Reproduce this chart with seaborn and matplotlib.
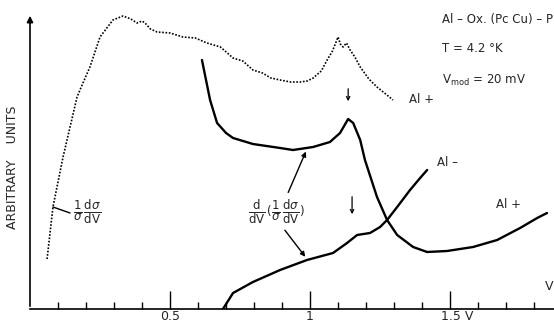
#!/usr/bin/env python3
"""
Tunnel spectrum Al-Ox-(PcCu)-Pb: 1/sigma dsigma/dV and its derivative
"""

import matplotlib
matplotlib.use("Agg")
import matplotlib.pyplot as plt
from matplotlib.transforms import ScaledTranslation
import seaborn as sns

# bias (V) and arbitrary-unit values
cond_v = [0.061, 0.082, 0.118, 0.168, 0.186, 0.214, 0.25, 0.296, 0.332, 0.36, 0.382,
          0.40, 0.411, 0.43, 0.454, 0.50, 0.546, 0.59, 0.632, 0.68, 0.725, 0.76,
          0.796, 0.83, 0.86, 0.893, 0.93, 0.964, 0.99, 1.011, 1.04, 1.061, 1.08,
          1.1, 1.108, 1.118, 1.13, 1.143, 1.16, 1.179, 1.21, 1.239, 1.27, 1.296]
cond_y = [0.50, 1.02, 1.52, 2.12, 2.24, 2.42, 2.72, 2.89, 2.93, 2.90, 2.86,
          2.88, 2.86, 2.80, 2.77, 2.76, 2.72, 2.71, 2.66, 2.62, 2.51, 2.48,
          2.39, 2.36, 2.31, 2.29, 2.27, 2.27, 2.28, 2.31, 2.38, 2.49, 2.58,
          2.72, 2.65, 2.62, 2.66, 2.59, 2.52, 2.42, 2.30, 2.22, 2.15, 2.09]

alp_v = [0.614, 0.643, 0.668, 0.70, 0.725, 0.796, 0.893, 0.939, 1.011, 1.071,
         1.107, 1.136, 1.154, 1.179, 1.196, 1.239, 1.275, 1.311, 1.368, 1.418,
         1.489, 1.582, 1.668, 1.75, 1.811, 1.846]
alp_y = [2.49, 2.09, 1.86, 1.76, 1.71, 1.65, 1.61, 1.59, 1.62, 1.67,
         1.76, 1.90, 1.86, 1.69, 1.49, 1.12, 0.89, 0.74, 0.62, 0.57,
         0.58, 0.62, 0.69, 0.81, 0.91, 0.96]

alm_v = [0.689, 0.725, 0.796, 0.893, 0.989, 1.082, 1.132, 1.168, 1.214, 1.25,
         1.275, 1.311, 1.357, 1.393, 1.418]
alm_y = [0.0, 0.16, 0.27, 0.39, 0.49, 0.56, 0.66, 0.74, 0.76, 0.82,
         0.89, 1.02, 1.19, 1.31, 1.39]

major_ticks = [0.5, 1.0, 1.5]
major_labels = ["0.5", "1", "1.5 V"]
minor_ticks = [0.1, 0.2, 0.3, 0.4, 0.6, 0.7, 0.8, 0.9, 1.1, 1.2, 1.3, 1.4, 1.6, 1.7, 1.8]

sns.set_theme(style="white")
plt.rcParams["font.family"] = ["DejaVu Sans"]
plt.rcParams["mathtext.fontset"] = "dejavusans"

fig = plt.figure(figsize=(5.54, 3.22), dpi=100)
ax = fig.add_axes([30 / 554, 13 / 322, 524 / 554, 309 / 322])
ax.set_xlim(0, 1.871)
ax.set_ylim(0, 3.09)

sns.lineplot(x=cond_v, y=cond_y, ax=ax, color="black", linestyle=(0, (1, 1)),
             linewidth=1.2, sort=False)
sns.lineplot(x=alp_v, y=alp_y, ax=ax, color="black", linewidth=1.7, sort=False)
sns.lineplot(x=alm_v, y=alm_y, ax=ax, color="black", linewidth=1.7, sort=False)

# axes: y arrow, plain x baseline
for s in ["top", "right", "left"]:
    ax.spines[s].set_visible(False)
ax.spines["bottom"].set_color("black")
ax.spines["bottom"].set_linewidth(1.2)
ax.annotate("", xy=(0, 2.96), xytext=(0, 0),
            arrowprops=dict(arrowstyle="-|>", color="black", lw=1.2, mutation_scale=9))

ax.set_xticks(major_ticks)
ax.set_xticklabels(major_labels)
ax.set_xticks(minor_ticks, minor=True)
ax.set_yticks([])
ax.tick_params(axis="x", which="major", direction="in", length=13, width=1,
               color="black", labelsize=9, pad=1, bottom=True)
ax.tick_params(axis="x", which="minor", direction="in", length=5, width=1,
               color="black", bottom=True)
# "1.5 V": number sits on the tick, unit trails to the right
lbl = ax.get_xticklabels()[2]
lbl.set_transform(lbl.get_transform() + ScaledTranslation(0.07, 0, fig.dpi_scale_trans))
ax.text(1.84, 0.16, "V", fontsize=9, ha="left", va="bottom")

ax.text(-0.063, 1.42, "ARBITRARY    UNITS", rotation=90, fontsize=9,
        ha="center", va="center")

# curve labels
ax.text(1.355, 2.09, "Al +", fontsize=8.5, ha="left", va="center")
ax.text(1.455, 1.46, "Al \u2013", fontsize=8.5, ha="left", va="center")
ax.text(1.665, 1.05, "Al +", fontsize=8.5, ha="left", va="center")
ax.text(0.154, 0.97, r"$\dfrac{1}{\sigma}\,\dfrac{\mathrm{d}\sigma}{\mathrm{dV}}$",
        fontsize=8.5, ha="left", va="center")
ax.plot([0.082, 0.143], [1.02, 0.96], color="black", lw=1)
ax.text(0.779, 0.97,
        r"$\dfrac{\mathrm{d}}{\mathrm{dV}}\,(\dfrac{1}{\sigma}\,\dfrac{\mathrm{d}\sigma}{\mathrm{dV}})$",
        fontsize=8.5, ha="left", va="center")
ax.annotate("", xy=(0.989, 1.60), xytext=(0.918, 1.14),
            arrowprops=dict(arrowstyle="-|>", color="black", lw=1, mutation_scale=7))
ax.annotate("", xy=(0.989, 0.50), xytext=(0.904, 0.81),
            arrowprops=dict(arrowstyle="-|>", color="black", lw=1, mutation_scale=7))
# peak markers
ax.annotate("", xy=(1.136, 2.05), xytext=(1.136, 2.23),
            arrowprops=dict(arrowstyle="->", color="black", lw=0.9, mutation_scale=6))
ax.annotate("", xy=(1.15, 0.92), xytext=(1.15, 1.15),
            arrowprops=dict(arrowstyle="->", color="black", lw=0.9, mutation_scale=6))

# sample info
ax.text(1.47, 2.89, "Al \u2013 Ox. (Pc Cu) \u2013 P", fontsize=8.5, ha="left", va="center")
ax.text(1.47, 2.61, "T = 4.2 \u00b0K", fontsize=8.5, ha="left", va="center")
ax.text(1.47, 2.29, r"V$_{\mathrm{mod}}$ = 20 mV", fontsize=8.5, ha="left", va="center")

fig.savefig("out.png", dpi=100)
plt.close(fig)
